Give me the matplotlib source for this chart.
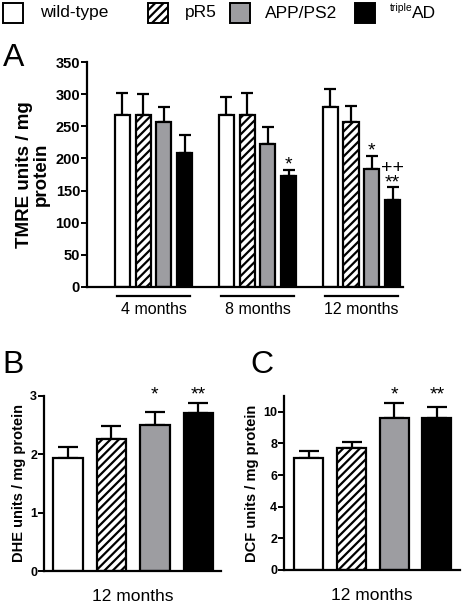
import numpy as np
import matplotlib.pyplot as plt
import matplotlib.patches as mpatches
import matplotlib.transforms as mtransforms

plt.rcParams['font.family'] = ['Liberation Sans', 'DejaVu Sans']
plt.rcParams['hatch.linewidth'] = 1.6

# data
groups_a = ['4 months', '8 months', '12 months']
genotypes = ['wild-type', 'pR5', 'APP/PS2', 'AD']
tmre_mean = [[267, 267, 257, 208],
             [267, 267, 222, 172],
             [280, 257, 183, 135]]
tmre_err = [[34, 33, 23, 28],
            [28, 34, 27, 10],
            [28, 25, 21, 20]]
tmre_marks = {(1, 3): '*', (2, 2): '*', (2, 3): '++\n**'}

dhe_mean = [1.94, 2.26, 2.50, 2.71]
dhe_err = [0.19, 0.23, 0.23, 0.17]
dhe_marks = ['', '', '*', '**']

dcf_mean = [7.09, 7.72, 9.62, 9.62]
dcf_err = [0.44, 0.40, 0.95, 0.70]
dcf_marks = ['', '', '*', '**']

colors = ['white', 'white', '#9d9da1', 'black']
hatches = [None, '////', None, None]

W, H = 462, 606
fig = plt.figure(figsize=(W / 100, H / 100), dpi=100)


def px_axes(x0, x1, ytop, ybot):
    return fig.add_axes([x0 / W, 1 - ybot / H, (x1 - x0) / W, (ybot - ytop) / H])


def style(ax, fs):
    for s in ['top', 'right']:
        ax.spines[s].set_visible(False)
    for s in ['left', 'bottom']:
        ax.spines[s].set_linewidth(1.6)
    ax.tick_params(axis='y', direction='out', width=1.4, length=4, labelsize=fs, pad=1)
    for t in ax.get_yticklabels():
        t.set_fontweight('bold')
    ax.set_xticks([])


def draw_bars(ax, xs, means, errs, width, cap):
    for i, (x, m, e) in enumerate(zip(xs, means, errs)):
        k = i % 4
        ax.bar(x, m, width=width, color=colors[k], edgecolor='black', linewidth=1.6,
               hatch=hatches[k], zorder=2)
        ax.errorbar(x, m, yerr=[[0], [e]], fmt='none', ecolor='black', elinewidth=1.6,
                    capsize=cap, capthick=1.6, zorder=1)


# panel A
axA = px_axes(87, 403, 62, 287)
xsA, msA, esA = [], [], []
for g in range(3):
    for k in range(4):
        xsA.append(g + (k - 1.5) * 0.2)
        msA.append(tmre_mean[g][k])
        esA.append(tmre_err[g][k])
draw_bars(axA, xsA, msA, esA, 0.145, 4)
axA.set_xlim(-0.64, 2.40)
axA.set_ylim(0, 350)
axA.set_yticks(np.arange(0, 351, 50))
style(axA, 10.5)
axA.set_ylabel('TMRE units / mg\nprotein', fontsize=13.5, fontweight='bold', labelpad=4,
               linespacing=1.0)
trA = mtransforms.blended_transform_factory(axA.transData, axA.transAxes)
for g, name in enumerate(groups_a):
    axA.plot([g - 0.35, g + 0.35], [-0.04, -0.04], color='black', lw=1.6,
             transform=trA, clip_on=False)
    axA.text(g, -0.065, name, transform=trA, ha='center', va='top', fontsize=11.5)
for (g, k), mark in tmre_marks.items():
    x = g + (k - 1.5) * 0.2
    y = tmre_mean[g][k] + tmre_err[g][k] - 6
    axA.text(x, y, mark, ha='center', va='bottom', fontsize=14, linespacing=0.75)
fig.text(3 / W, 1 - 58 / H, 'A', fontsize=23, va='center', ha='left')


def small_panel(ax, means, errs, marks, ylim, yticks, ylabel, letter, lx, ly):
    xs = np.arange(4)
    draw_bars(ax, xs, means, errs, 0.68, 7)
    ax.set_ylim(*ylim)
    ax.set_yticks(yticks)
    style(ax, 9)
    ax.set_ylabel(ylabel, fontsize=10.5, fontweight='bold', labelpad=3)
    ax.set_xlabel('12 months', fontsize=12.5, labelpad=13)
    for x, s in zip(xs, marks):
        if s:
            ax.text(x, 0.955, s, ha='center', va='bottom', fontsize=14,
                    transform=mtransforms.blended_transform_factory(ax.transData, ax.transAxes),
                    clip_on=False)
    fig.text(lx / W, 1 - ly / H, letter, fontsize=23, va='center', ha='left')


axB = px_axes(44, 221, 396, 571)
axB.set_xlim(-0.55, 3.52)
small_panel(axB, dhe_mean, dhe_err, dhe_marks, (0, 3), [0, 1, 2, 3],
            'DHE units / mg protein', 'B', 2, 365)

axC = px_axes(284, 460, 396, 570)
axC.set_xlim(-0.585, 3.54)
small_panel(axC, dcf_mean, dcf_err, dcf_marks, (0, 11), [0, 2, 4, 6, 8, 10],
            'DCF units / mg protein', 'C', 250, 365)

# legend across the top
leg_items = [(3, 'wild-type', 40), (148, 'pR5', 185), (230, 'APP/PS2', 265), (355, None, 390)]
for (x, label, tx), k in zip(leg_items, range(4)):
    fig.patches.append(mpatches.Rectangle((x / W, 1 - 23 / H), 20 / W, 20 / H,
                                          transform=fig.transFigure, facecolor=colors[k],
                                          edgecolor='black', linewidth=1.4, hatch=hatches[k]))
    if label:
        fig.text(tx / W, 1 - 13 / H, label, fontsize=12.5, va='center', ha='left')
fig.text(390 / W, 1 - 8 / H, 'triple', fontsize=7.5, va='center', ha='left')
fig.text(412 / W, 1 - 13 / H, 'AD', fontsize=12.5, va='center', ha='left')

fig.savefig('out.png', dpi=100)
